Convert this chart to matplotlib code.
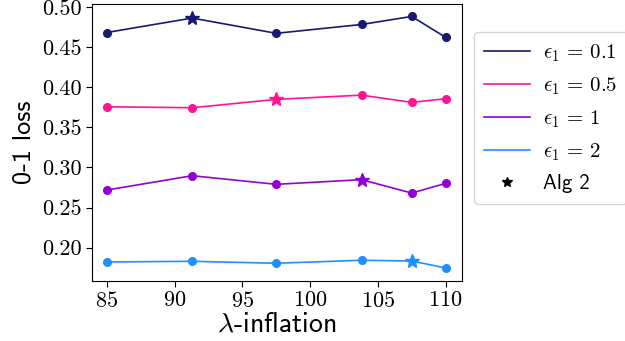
import matplotlib
matplotlib.use('Agg')
import matplotlib.pyplot as plt
from matplotlib.lines import Line2D

plt.rcParams['mathtext.fontset'] = 'cm'
plt.rcParams['axes.formatter.use_mathtext'] = True

# data
inflation = [85, 91.3, 97.5, 103.8, 107.5, 110]
loss_01 = [0.468, 0.486, 0.467, 0.478, 0.488, 0.462]
loss_05 = [0.3755, 0.3743, 0.3847, 0.390, 0.381, 0.3855]
loss_1 = [0.2718, 0.2896, 0.2789, 0.2847, 0.268, 0.2801]
loss_2 = [0.1822, 0.183, 0.1806, 0.1843, 0.1834, 0.1747]
alg2_idx = [1, 2, 3, 4]  # which point of each series is the Alg 2 choice

series = [loss_01, loss_05, loss_1, loss_2]
eps_labels = ['0.1', '0.5', '1', '2']
colors = ['#191970', '#ff1493', '#9400d3', '#1e90ff']

fig = plt.figure(figsize=(6.25, 3.41), dpi=100)
ax = fig.add_axes([0.147, 0.176, 0.592, 0.812])

handles = []
for ys, lab, c, k in zip(series, eps_labels, colors, alg2_idx):
    ax.plot(inflation, ys, color=c, lw=1.2, zorder=2)
    xs_c = [x for i, x in enumerate(inflation) if i != k]
    ys_c = [y for i, y in enumerate(ys) if i != k]
    ax.plot(xs_c, ys_c, 'o', color=c, ms=5.5, zorder=3)
    ax.plot(inflation[k], ys[k], '*', color=c, ms=10, zorder=4)
    handles.append(Line2D([], [], color=c, lw=1.2,
                          label=r'$\epsilon_1 \,=\, \mathsf{' + lab + '}$'))
handles.append(Line2D([], [], color='black', marker='*', ls='none',
                      ms=7, label='Alg 2'))

ax.set_xlim(83.9, 111.2)
ax.set_ylim(0.1585, 0.5034)
ax.set_xticks([85, 90, 95, 100, 105, 110])
ax.set_yticks([0.20, 0.25, 0.30, 0.35, 0.40, 0.45, 0.50])
ax.set_yticklabels(['0.20', '0.25', '0.30', '0.35', '0.40', '0.45', '0.50'])
for t in ax.get_xticklabels() + ax.get_yticklabels():
    t.set_fontfamily('cmr10')
    t.set_fontsize(16)
ax.tick_params(length=4, width=0.8, pad=3)

ax.set_xlabel(r'$\lambda$-inflation', fontfamily='cmss10', fontsize=20, labelpad=1)
ax.set_ylabel('0-1 loss', fontfamily='cmss10', fontsize=19, labelpad=5)

leg = fig.legend(handles=handles, loc='upper left',
                 bbox_to_anchor=(474 / 625, 1 - 31.7 / 341),
                 prop={'family': 'cmss10', 'size': 15},
                 handlelength=2.2, handletextpad=0.6, labelspacing=0.55,
                 borderpad=0.5, borderaxespad=0, frameon=True, fancybox=True)

fig.savefig('out.png', dpi=100)
